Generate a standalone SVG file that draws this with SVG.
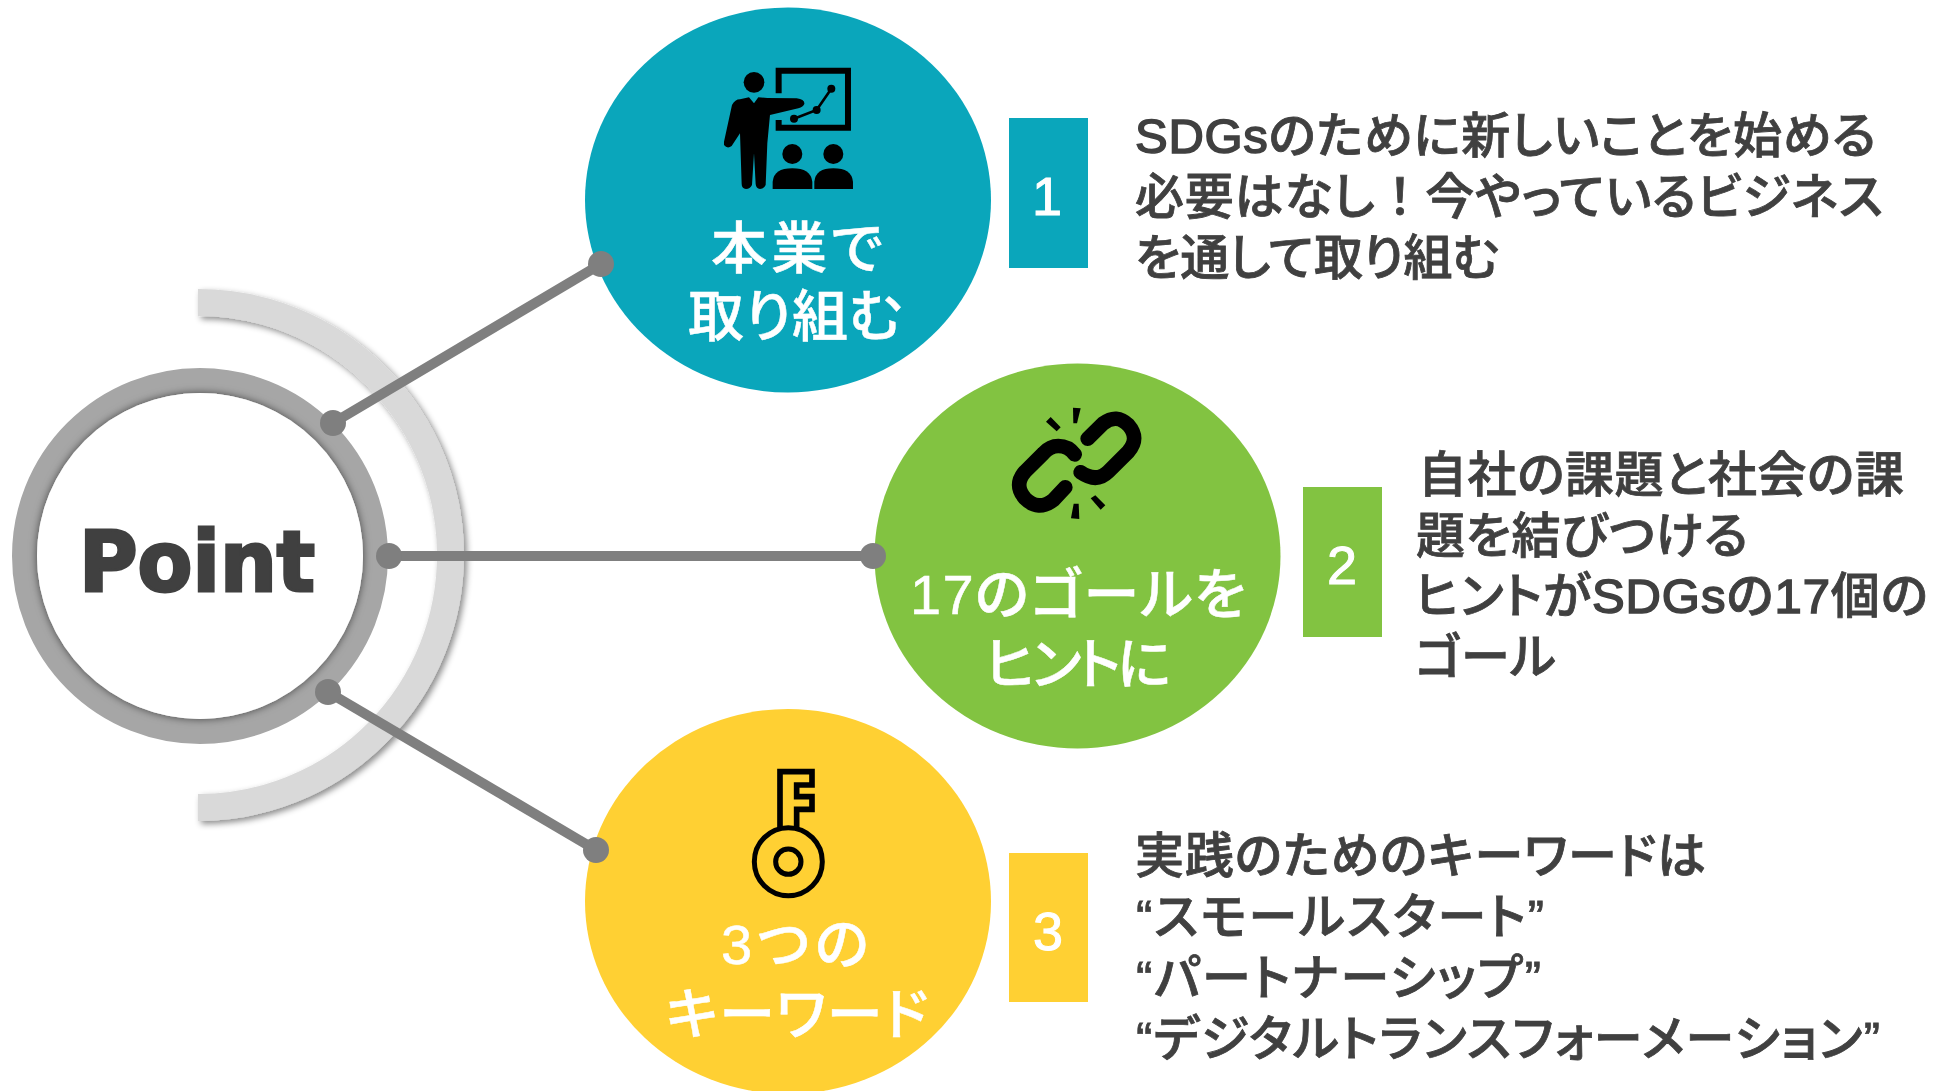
<svg xmlns="http://www.w3.org/2000/svg" width="1943" height="1091" viewBox="0 0 1943 1091">
<defs>
<filter id="sh" x="-20%" y="-20%" width="140%" height="140%"><feDropShadow dx="3" dy="3" stdDeviation="3" flood-color="#000" flood-opacity="0.45"/></filter>
<filter id="inner" x="-20%" y="-20%" width="140%" height="140%"><feDropShadow dx="0" dy="0" stdDeviation="4" flood-color="#000" flood-opacity="0.6"/></filter>
</defs>
<style>
text{font-family:"Liberation Sans","Noto Sans CJK JP",sans-serif;font-feature-settings:"palt"}
.b{font-size:49px;fill:#404040;font-weight:500;stroke:#404040;stroke-width:.8px}
.t{font-size:56px;fill:#fff;font-weight:500;text-anchor:middle;stroke:#fff;stroke-width:.5px}
.n{font-size:54px;fill:#fff;text-anchor:middle;stroke:#fff;stroke-width:1px}
.l{stroke-width:1.6px}
.w{font-feature-settings:normal}
.k{fill:#000;stroke:none}
.o{fill:none;stroke:#000;stroke-linecap:round;stroke-linejoin:miter}
.c{stroke:#7f7f7f;stroke-width:10;fill:none}
.d{fill:#7f7f7f}
</style>
<g id="point">
<path d="M198 302.500A252.500 252.500 0 0 1 198 807.500" fill="none" stroke="#d9d9d9" stroke-width="27" filter="url(#sh)"/>
<circle cx="200" cy="556" r="175.500" fill="none" stroke="#a6a6a6" stroke-width="25"/>
<circle cx="200" cy="556" r="163" fill="#fff" filter="url(#inner)"/>
<text x="79" y="591" font-size="84" textLength="236" lengthAdjust="spacingAndGlyphs" style="font-family:'DejaVu Sans',sans-serif;font-weight:700;fill:#404040;stroke:#404040;stroke-width:3px">Point</text>
</g>
<g id="node1">
<ellipse cx="788" cy="200" rx="203" ry="192.500" fill="#0aa6bb"/>
<g id="icon1" transform="translate(690 40) scale(.3333)">
<circle class="k" cx="192" cy="127" r="31"/>
<path class="k" d="M150 178L177 172L192 190L205 172L232 174L320 175Q345 178 343 192Q340 200 325 205L240 225L232 310L227 435Q222 447 210 447Q198 445 197 432L192 340L186 435Q180 447 168 447Q155 445 155 432L150 280L125 318Q112 328 102 315L102 305L126 195Q135 178 150 178Z"/>
<path class="o" style="stroke-width:18;stroke-linecap:butt" d="M266 160V92H474V263H266V240"/>
<path class="o" style="stroke-width:8" d="M312 236L380 210L424 146"/>
<circle class="k" cx="312" cy="236" r="12"/><circle class="k" cx="380" cy="210" r="12"/><circle class="k" cx="424" cy="146" r="12"/>
<circle class="k" cx="307" cy="342" r="30"/><circle class="k" cx="430" cy="342" r="30"/>
<path class="k" d="M248 447V425Q252 385 307 385Q362 385 367 425V447Z"/>
<path class="k" d="M373 447V425Q377 385 430 385Q485 385 489 425V447Z"/>
</g>
<text class="t" x="797" y="268" textLength="172">本業で</text>
<text class="t" x="795" y="336" textLength="214">取り組む</text>
</g>
<g id="node2">
<ellipse cx="1077.500" cy="556" rx="203" ry="192.500" fill="#82c341"/>
<g id="icon2" transform="translate(990 390) scale(.3333)">
<path class="o" style="stroke-width:44" d="M254 193Q235 168 205 168Q180 168 160 190L105 245Q70 285 105 325Q145 365 190 330L226 292"/>
<path class="o" style="stroke-width:44" d="M293 146L340 100Q380 70 415 105Q450 145 415 185L355 245Q320 280 272 247"/>
<path class="k" d="M168 95L182 81L212 112L200 124Z"/><path class="k" d="M249 53L272 55L261 100L250 100Z"/>
<path class="k" d="M302 325L316 316L346 346L332 359Z"/><path class="k" d="M251 341L266 341L268 387L243 385Z"/>
</g>
<text class="t" x="1078" y="614" textLength="336">17のゴールを</text>
<text class="t" x="1078" y="684" textLength="186">ヒントに</text>
</g>
<g id="node3">
<ellipse cx="788" cy="901.500" rx="203" ry="192.500" fill="#ffd033"/>
<g id="icon3" transform="translate(720 750) scale(.3333)">
<path class="o" style="stroke-width:17;stroke-linecap:butt" d="M180 240V65H276V105H230V140H276V178H230V240"/>
<circle class="o" style="stroke-width:15" cx="205" cy="335" r="102"/>
<circle class="o" style="stroke-width:15" cx="205" cy="335" r="38"/>
</g>
<text class="t" x="795" y="964" textLength="148">3つの</text>
<text class="t" x="797" y="1034" textLength="262">キーワード</text>
</g>
<g id="box1"><rect x="1009" y="118" width="79" height="150" fill="#0aa6bb"/><text class="n" x="1047" y="215">1</text></g>
<g id="box2"><rect x="1303" y="487" width="79" height="150" fill="#82c341"/><text class="n" x="1342" y="584">2</text></g>
<g id="box3"><rect x="1009" y="853" width="79" height="149" fill="#ffd033"/><text class="n" x="1048" y="950">3</text></g>
<g id="text1">
<text class="b" x="1135" y="153" textLength="741"><tspan class="l">SDGs</tspan>のために新しいことを始める</text>
<text class="b" x="1135" y="214" textLength="748">必要はなし<tspan class="w">！</tspan>今やっているビジネス</text>
<text class="b" x="1135" y="275" textLength="364">を通して取り組む</text>
</g>
<g id="text2">
<text class="b" x="1418" y="492" textLength="486">自社の課題と社会の課</text>
<text class="b" x="1416" y="553" textLength="332">題を結びつける</text>
<text class="b" x="1415" y="613" textLength="513">ヒントが<tspan class="l">SDGs</tspan>の<tspan class="l">17</tspan>個の</text>
<text class="b" x="1415" y="674" textLength="141">ゴール</text>
</g>
<g id="text3">
<text class="b" x="1135" y="873" textLength="571">実践のためのキーワードは</text>
<text class="b" x="1136" y="934" textLength="408">“スモールスタート”</text>
<text class="b" x="1136" y="995" textLength="405">“パートナーシップ”</text>
<text class="b" x="1136" y="1056" textLength="744">“デジタルトランスフォーメーション”</text>
</g>
<g id="connectors">
<path class="c" d="M333 423L601 264"/><path class="c" d="M389 556H873"/><path class="c" d="M328 692L596 850"/>
<circle class="d" cx="333" cy="423" r="13"/><circle class="d" cx="601" cy="264" r="13"/>
<circle class="d" cx="389" cy="556" r="13"/><circle class="d" cx="873" cy="556" r="13"/>
<circle class="d" cx="328" cy="692" r="13"/><circle class="d" cx="596" cy="850" r="13"/>
</g>
</svg>
